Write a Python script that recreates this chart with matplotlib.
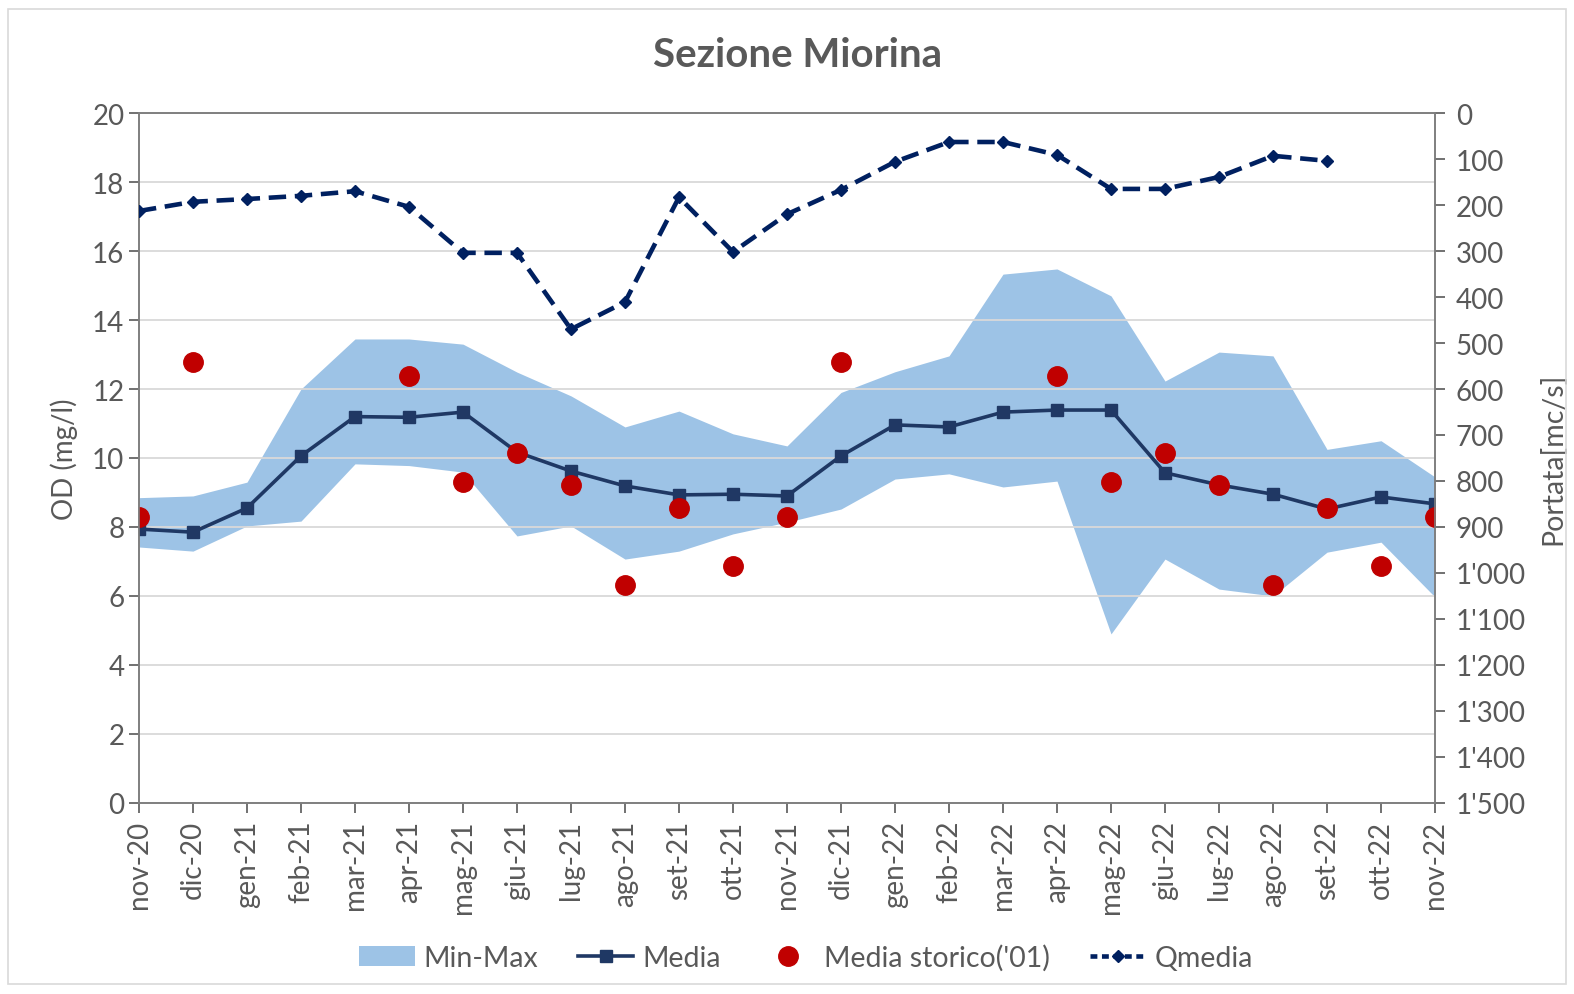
import numpy as np
import matplotlib.pyplot as plt
from matplotlib.patches import Patch, Rectangle
from matplotlib.lines import Line2D
from matplotlib.ticker import FuncFormatter

plt.rcParams['font.family'] = ['Lato', 'DejaVu Sans']

months = ['nov-20', 'dic-20', 'gen-21', 'feb-21', 'mar-21', 'apr-21', 'mag-21', 'giu-21',
          'lug-21', 'ago-21', 'set-21', 'ott-21', 'nov-21', 'dic-21', 'gen-22', 'feb-22',
          'mar-22', 'apr-22', 'mag-22', 'giu-22', 'lug-22', 'ago-22', 'set-22', 'ott-22', 'nov-22']

od_min = [7.42, 7.30, 8.03, 8.17, 9.83, 9.78, 9.59, 7.74, 8.03, 7.07, 7.30, 7.80, 8.14,
          8.52, 9.39, 9.54, 9.16, 9.33, 4.90, 7.07, 6.20, 6.00, 7.27, 7.56, 5.97]
od_max = [8.85, 8.90, 9.30, 12.0, 13.45, 13.45, 13.30, 12.49, 11.80, 10.90, 11.36, 10.70, 10.35,
          11.90, 12.50, 12.96, 15.33, 15.48, 14.70, 12.23, 13.07, 12.96, 10.25, 10.50, 9.45]
od_media = [7.94, 7.85, 8.55, 10.06, 11.20, 11.18, 11.33, 10.17, 9.62, 9.19, 8.93, 8.95, 8.90,
            10.06, 10.96, 10.90, 11.33, 11.39, 11.39, 9.57, 9.22, 8.95, 8.52, 8.87, 8.67]
od_storico = [8.30, 12.78, None, None, None, 12.38, 9.30, 10.14, 9.22, 6.32, 8.55, 6.87, 8.29,
              12.78, None, None, None, 12.38, 9.30, 10.14, 9.22, 6.32, 8.55, 6.87, 8.29]
q_media = [213, 193, 187, 180, 170, 204, 304, 304, 470, 411, 183, 302, 220,
           167, 106, 63, 63, 91, 165, 165, 139, 93, 104, None, None]

od_storico = np.array(od_storico, dtype=float)
q_media = np.array(q_media, dtype=float)
x = np.arange(len(months))

grey = '#595959'
navy = '#1F3864'

fig = plt.figure(figsize=(15.74, 9.95), dpi=100)
fig.patches.append(Rectangle((0.005, 0.01), 0.99, 0.98, transform=fig.transFigure,
                             fill=False, edgecolor='#d9d9d9', linewidth=1.2))
ax = fig.add_axes([0.0883, 0.192, 0.8234, 0.6934])

ax.fill_between(x, od_min, od_max, color='#9DC3E6', linewidth=0, zorder=1)
ax.plot(x, od_media, color=navy, linewidth=2.6, marker='s', markersize=9,
        markerfacecolor='#203864', markeredgecolor='#203864', zorder=3)
ax.plot(x, od_storico, linestyle='none', marker='o', markersize=14,
        color='#C00000', zorder=4)

ax.set_xlim(0, len(months) - 1)
ax.set_ylim(0, 20)
ax.set_yticks(range(0, 21, 2))
ax.set_xticks(x)
ax.set_xticklabels(months, rotation=90)
ax.yaxis.grid(True, color='#d9d9d9', linewidth=1.3)
ax.set_axisbelow('line')
ax.set_ylabel('OD (mg/l)', fontsize=20, color=grey, labelpad=10)
ax.tick_params(axis='both', colors=grey, labelsize=20, length=7, width=1.2)
ax.tick_params(axis='x', labelsize=20, pad=5)
for s in ax.spines.values():
    s.set_color('#7f7f7f')
    s.set_linewidth(1.2)

ax2 = ax.twinx()
ax2.plot(x, q_media, color='#002060', linewidth=3.3, linestyle=(0, (3.8, 1.9)),
         marker='D', markersize=6.5, zorder=5)
ax2.set_ylim(1500, 0)
ax2.set_yticks(range(0, 1501, 100))
ax2.yaxis.set_major_formatter(FuncFormatter(lambda v, p: f'{int(v):,}'.replace(',', "'")))
ax2.set_ylabel('Portata[mc/s]', fontsize=20.5, color=grey, labelpad=10)
ax2.tick_params(axis='y', colors=grey, labelsize=20, length=7, width=1.2, pad=8)
for s in ax2.spines.values():
    s.set_color('#7f7f7f')
    s.set_linewidth(1.2)

fig.text(0.507, 0.944, 'Sezione Miorina', ha='center', va='center',
         fontsize=29, fontweight='bold', color=grey)

handles = [
    Patch(facecolor='#9DC3E6', edgecolor='none'),
    Line2D([], [], color=navy, linewidth=2.6, marker='s', markersize=9),
    Line2D([], [], linestyle='none', marker='o', markersize=14, color='#C00000'),
    Line2D([], [], color='#002060', linewidth=3.3, linestyle=(0, (1.5, 1)), marker='D', markersize=6.5),
]
labels = ['Min-Max', 'Media', "Media storico('01)", 'Qmedia']
fig.legend(handles, labels, loc='center', bbox_to_anchor=(0.512, 0.037), ncol=4,
           frameon=False, fontsize=20.5, labelcolor=grey, handlelength=1.95,
           handletextpad=0.3, columnspacing=1.4)

fig.savefig('out.png', dpi=100)
